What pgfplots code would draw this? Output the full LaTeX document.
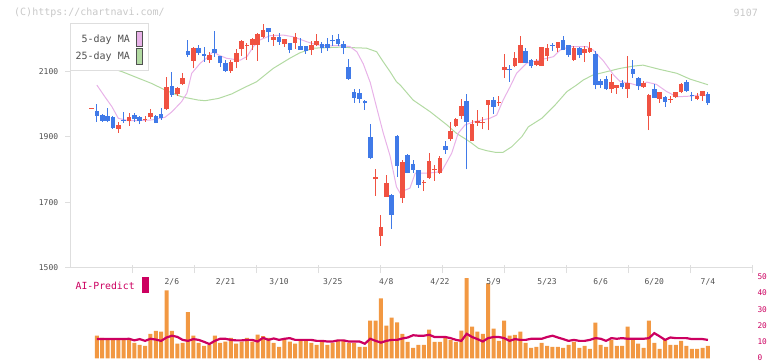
\documentclass[border=0pt]{standalone}
\usepackage{fontspec}
\setmonofont{DejaVu Sans Mono}
\usepackage{pgfplots}
\usepackage{pgfplotstable}
\pgfplotsset{compat=1.18}
\definecolor{cup}{RGB}{240,82,66}
\definecolor{cdown}{RGB}{64,122,232}
\definecolor{vol}{RGB}{242,152,66}
\definecolor{ai}{RGB}{204,0,96}
\definecolor{ma5}{RGB}{232,178,232}
\definecolor{ma25}{RGB}{178,218,162}
\definecolor{axisgray}{RGB}{222,222,222}
\definecolor{labgray}{RGB}{80,80,80}
\definecolor{wm}{RGB}{200,200,200}

% up candles (close >= open): i O H L C
\pgfplotstableread{
i O H L C
0 1987 1989 1987 1988
5 1924 1947 1913 1937
7 1948 1974 1934 1960
10 1952 1964 1947 1955
11 1960 1985 1954 1972
14 1985 2085 1982 2052
16 2033 2052 2026 2049
17 2061 2095 2059 2080
19 2134 2175 2110 2172
22 2136 2161 2126 2151
26 2102 2136 2097 2129
27 2129 2168 2110 2158
28 2170 2197 2148 2193
29 2179 2187 2136 2182
30 2182 2202 2166 2200
31 2182 2218 2134 2215
32 2207 2246 2202 2228
34 2197 2215 2180 2206
36 2184 2200 2177 2200
38 2189 2217 2170 2205
41 2165 2194 2151 2182
42 2182 2215 2179 2194
53 1770 1802 1720 1776
54 1598 1661 1567 1624
55 1717 1783 1717 1759
58 1712 1829 1699 1824
62 1759 1768 1734 1762
63 1775 1850 1771 1826
64 1798 1814 1766 1802
65 1791 1842 1786 1836
67 1893 1945 1888 1918
68 1934 1957 1929 1954
69 1964 2015 1954 1995
71 1888 1952 1888 1940
72 1942 1983 1934 1950
73 1944 1960 1923 1946
74 1998 2013 1921 2013
76 2003 2025 1996 2008
77 2105 2154 2080 2113
79 2117 2161 2113 2141
80 2125 2209 2125 2182
83 2120 2138 2117 2133
84 2117 2177 2117 2177
85 2148 2185 2134 2172
87 2174 2190 2161 2190
90 2136 2179 2134 2174
92 2158 2179 2131 2168
93 2161 2192 2158 2174
97 2046 2092 2036 2067
98 2051 2059 2032 2059
100 2047 2148 2020 2066
103 2054 2071 2051 2066
104 1964 2032 1921 2027
106 2016 2039 2005 2039
108 2014 2026 2005 2016
109 2021 2037 2020 2037
110 2039 2066 2034 2062
113 2016 2034 2013 2025
114 2025 2041 2011 2041
}\upcandles

% down candles (close < open): i O H L C
\pgfplotstableread{
i O H L C
1 1980 2001 1947 1965
2 1967 1970 1947 1950
3 1965 1988 1945 1950
4 1960 1964 1925 1928
6 1953 1975 1944 1950
8 1966 1972 1947 1954
9 1960 1964 1939 1950
12 1965 1967 1942 1944
13 1970 1989 1952 1958
15 2056 2098 2023 2028
18 2163 2197 2146 2151
20 2172 2183 2151 2158
21 2154 2177 2131 2148
23 2170 2225 2146 2156
24 2148 2148 2115 2126
25 2128 2136 2100 2103
33 2233 2233 2190 2223
35 2205 2217 2182 2192
37 2188 2188 2156 2167
39 2179 2202 2167 2167
40 2179 2179 2155 2163
43 2184 2192 2158 2172
44 2185 2202 2163 2174
45 2196 2212 2179 2193
46 2200 2215 2180 2186
47 2185 2194 2153 2174
48 2113 2139 2075 2078
49 2037 2047 2005 2020
50 2034 2047 2003 2017
51 2010 2013 1983 2003
52 1900 1940 1831 1835
56 1722 1725 1619 1661
57 1904 1906 1778 1812
59 1845 1848 1789 1791
60 1816 1829 1790 1799
61 1799 1799 1745 1753
66 1872 1888 1848 1860
70 2010 2032 1801 1947
75 2013 2023 1970 1993
78 2107 2120 2069 2104
81 2163 2172 2126 2128
82 2136 2138 2110 2117
86 2182 2187 2164 2180
88 2197 2209 2166 2166
89 2182 2182 2146 2151
91 2172 2177 2143 2151
94 2154 2164 2046 2059
95 2071 2076 2051 2059
96 2077 2087 2044 2046
99 2066 2075 2047 2054
101 2108 2136 2082 2093
102 2082 2085 2044 2057
105 2047 2062 2020 2020
107 2023 2026 1993 2008
111 2067 2073 2037 2042
112 2029 2037 2011 2025
115 2032 2039 1998 2005
}\downcandles

\pgfplotstableread{
i v
1.0 2059
2.5 2023
3.8 1993
5.0 1957
6.9 1950
8.7 1950
11.2 1952
13.7 1960
15.0 1977
16.8 2008
17.8 2034
18.7 2095
20.3 2126
21.8 2146
22.7 2161
23.7 2151
25.2 2141
27.7 2135
29.0 2146
30.2 2177
31.4 2197
33.3 2210
35.8 2212
37.6 2207
40.1 2192
42.0 2182
43.9 2179
46.4 2180
48.2 2177
49.5 2161
50.7 2124
52.0 2067
53.2 1990
54.4 1914
55.7 1842
56.9 1747
57.6 1727
58.5 1737
59.4 1743
60.4 1789
62.8 1789
65.3 1794
67.2 1850
68.4 1911
69.7 1937
71.5 1947
74.3 1957
75.6 1967
76.8 2013
78.1 2054
79.3 2095
81.2 2126
83.7 2136
86.2 2146
87.4 2166
89.3 2177
92.4 2177
93.6 2166
95.5 2133
97.4 2090
98.6 2070
100.5 2064
102.3 2056
103.6 2068
105.4 2061
107.3 2039
109.2 2023
111.7 2025
113.6 2029
115.0 2027
}\mafive

\pgfplotstableread{
i v
0 2128
3 2114
5.7 2100
11.2 2064
13.7 2044
16.8 2023
19.9 2013
21.2 2011
23.7 2018
26.2 2032
28.6 2052
30.8 2069
33.9 2110
37.0 2141
38.9 2158
41.4 2172
46.4 2175
49.5 2173
51.3 2172
53.2 2161
54.4 2131
55.7 2100
56.9 2069
57.6 2059
60.0 2013
63.2 1977
66.3 1937
68.1 1911
70.6 1885
72.2 1865
73.7 1858
75.3 1853
76.8 1853
78.4 1870
80.3 1901
81.5 1931
84.0 1957
86.5 1998
88.7 2039
90.5 2059
91.8 2075
93.6 2090
94.9 2095
98.6 2110
101.1 2117
102.9 2120
106.0 2107
109.2 2095
111.7 2077
114.8 2061
115.0 2060
}\matwentyfive

% volume and AI-Predict
\pgfplotstableread{
i vol ai
1 14.2 12.1
2 12.9 12.1
3 11.6 12.1
4 11.6 12.1
5 11.6 12.1
6 11.6 12.1
7 11.6 12.3
8 9.8 11.3
9 8.5 12.1
10 7.9 11.0
11 15.4 12.3
12 17.3 11.8
13 16.7 11.0
14 42.5 13.1
15 17.3 14.2
16 9.3 13.5
17 9.8 11.6
18 28.9 11.0
19 14.2 12.1
20 9.8 11.6
21 7.9 10.4
22 8.5 9.0
23 14.2 11.0
24 9.8 12.3
25 10.5 12.3
26 12.9 11.6
27 9.2 11.3
28 10.5 11.3
29 12.9 11.6
30 10.5 11.6
31 14.9 10.6
32 13.9 12.9
33 12.9 11.6
34 9.8 12.5
35 7.3 11.6
36 12.2 12.3
37 10.5 12.7
38 9.2 11.6
39 11.6 11.6
40 11.6 11.6
41 9.8 11.6
42 8.5 11.0
43 10.5 11.0
44 8.5 10.6
45 9.8 10.6
46 11.6 11.3
47 11.6 11.3
48 9.8 10.6
49 9.8 10.6
50 7.3 10.6
51 7.3 9.2
52 23.6 12.3
53 23.6 11.0
54 37.5 9.9
55 20.5 11.0
56 25.5 11.6
57 22.6 11.6
58 15.4 12.5
59 10.4 13.1
60 6.6 14.5
61 8.5 14.2
62 8.5 14.2
63 18.0 14.8
64 10.4 13.4
65 10.4 13.4
66 12.9 13.4
67 11.6 12.7
68 10.4 11.6
69 17.4 11.0
70 50.1 15.4
71 19.8 13.4
72 16.8 12.1
73 15.4 10.6
74 46.9 12.7
75 18.6 13.4
76 11.0 13.4
77 23.6 12.7
78 14.2 11.0
79 14.8 12.1
80 16.8 11.6
81 9.8 11.6
82 6.6 12.3
83 7.3 12.3
84 9.8 12.3
85 7.9 13.4
86 7.3 14.2
87 7.3 13.1
88 6.6 12.1
89 8.5 11.0
90 10.4 11.6
91 6.6 11.0
92 7.9 11.0
93 6.0 11.6
94 22.4 12.7
95 8.5 12.3
96 7.3 11.0
97 11.6 12.7
98 7.9 12.3
99 7.9 12.7
100 19.8 12.3
101 11.6 12.3
102 9.2 12.3
103 6.6 12.3
104 23.6 12.7
105 9.8 15.8
106 6.0 13.8
107 11.6 11.6
108 8.5 13.1
109 8.5 12.7
110 11.0 12.7
111 7.9 12.7
112 6.0 12.1
113 6.0 12.1
114 6.6 12.1
115 7.9 11.6
}\voltable

\begin{document}
\begin{tikzpicture}
\path[use as bounding box] (0,0) rectangle (772bp,361bp);

% watermark texts
\node[anchor=west, text=wm, font=\ttfamily\fontsize{10bp}{12bp}\selectfont, inner sep=0pt] at (14bp,348.5bp) {(C)https://chartnavi.com/};
\node[anchor=east, text=wm, font=\ttfamily\fontsize{10bp}{12bp}\selectfont, inner sep=0pt] at (758bp,348.5bp) {9107};

% ---------------- price panel ----------------
\begin{axis}[
  at={(70bp,93.5bp)}, anchor=south west,
  scale only axis, width=682.5bp, height=244.8bp,
  xmin=-4.01, xmax=123.32, ymin=1500, ymax=2250,
  axis lines*=left,
  axis line style={-, draw=axisgray, line width=1bp},
  xtick=\empty,
  ytick={1500,1700,1900,2100},
  yticklabels={1500,1700,1900,2100},
  tick align=outside, major tick length=5bp,
  tick style={draw=axisgray, line width=1bp},
  yticklabel style={font=\ttfamily\fontsize{8bp}{9bp}\selectfont, text=labgray, xshift=-3.3bp},
  /pgf/number format/assume math mode=true,
  clip=false,
]
\addplot[ma25, line width=1bp] table[x=i, y=v] {\matwentyfive};
\addplot[ma5, line width=1bp] table[x=i, y=v] {\mafive};
% wicks
\addplot[draw=none, mark=none,
  error bars/.cd, y dir=plus, y explicit, error mark=none,
  error bar style={draw=cup, line width=1bp}]
  table[x=i, y=L, y error expr={\thisrow{H}-\thisrow{L}}] {\upcandles};
\addplot[draw=none, mark=none,
  error bars/.cd, y dir=plus, y explicit, error mark=none,
  error bar style={draw=cdown, line width=1bp}]
  table[x=i, y=L, y error expr={\thisrow{H}-\thisrow{L}}] {\downcandles};
% bodies
\addplot[draw=none, mark=none,
  error bars/.cd, y dir=plus, y explicit, error mark=none,
  error bar style={draw=cup, line width=4.6bp}]
  table[x=i, y=O, y error expr={max(\thisrow{C}-\thisrow{O},3)}] {\upcandles};
\addplot[draw=none, mark=none,
  error bars/.cd, y dir=plus, y explicit, error mark=none,
  error bar style={draw=cdown, line width=4.6bp}]
  table[x=i, y=C, y error expr={max(\thisrow{O}-\thisrow{C},3)}] {\downcandles};
\end{axis}

% ticks crossing the base line
\begin{axis}[
  at={(70bp,93.5bp)}, anchor=south west,
  scale only axis, width=682.5bp, height=244.8bp,
  xmin=-4.01, xmax=123.32, ymin=0, ymax=1,
  axis y line=none, axis x line*=bottom,
  x axis line style={draw=none},
  xtick={7.565,19.14,30.715,42.29,53.865,65.44,77.015,88.59,100.165,111.74,123.315},
  xticklabels={},
  tick align=center, major tick length=8.5bp,
  tick style={draw=axisgray, line width=1bp, yshift=-1.7bp},
]
\addplot[draw=none, mark=none] coordinates {(0,0.5)};
\end{axis}

% legend box
\draw[axisgray, line width=1bp, fill=white] (70bp,290bp) rectangle (148bp,337bp);
\node[anchor=east, text=labgray, font=\ttfamily\fontsize{10bp}{12bp}\selectfont, inner sep=0pt] at (130bp,321bp) {5-day MA};
\node[anchor=east, text=labgray, font=\ttfamily\fontsize{10bp}{12bp}\selectfont, inner sep=0pt] at (130bp,304bp) {25-day MA};
\draw[draw=labgray, line width=0.8bp, fill=ma5] (136.3bp,314.5bp) rectangle (142.5bp,329.8bp);
\draw[draw=labgray, line width=0.8bp, fill=ma25] (136.3bp,297bp) rectangle (142.5bp,312.5bp);

% ---------------- volume panel ----------------
\begin{axis}[
  at={(70bp,2.5bp)}, anchor=south west,
  scale only axis, width=682.5bp, height=80.2bp,
  xmin=-4.01, xmax=123.32, ymin=0, ymax=50,
  axis x line=none, axis y line*=right,
  y axis line style={draw=none},
  ytick={0,10,20,30,40,50},
  major tick length=0pt,
  yticklabel style={font=\ttfamily\fontsize{7.8bp}{9bp}\selectfont, text=ai, xshift=1.5bp, yshift=1.2bp},
  /pgf/number format/assume math mode=true,
  clip=false,
]
\addplot[ybar, bar width=4bp, bar shift=0pt, fill=vol, draw=none] table[x=i, y=vol] {\voltable};
\addplot[ai, line width=2.2bp] table[x=i, y=ai] {\voltable};
\node[text=labgray, font=\ttfamily\fontsize{8bp}{9bp}\selectfont, inner sep=0pt] at (axis cs:15,47.7) {2/6};
\node[text=labgray, font=\ttfamily\fontsize{8bp}{9bp}\selectfont, inner sep=0pt] at (axis cs:25,47.7) {2/21};
\node[text=labgray, font=\ttfamily\fontsize{8bp}{9bp}\selectfont, inner sep=0pt] at (axis cs:35,47.7) {3/10};
\node[text=labgray, font=\ttfamily\fontsize{8bp}{9bp}\selectfont, inner sep=0pt] at (axis cs:45,47.7) {3/25};
\node[text=labgray, font=\ttfamily\fontsize{8bp}{9bp}\selectfont, inner sep=0pt] at (axis cs:55,47.7) {4/8};
\node[text=labgray, font=\ttfamily\fontsize{8bp}{9bp}\selectfont, inner sep=0pt] at (axis cs:65,47.7) {4/22};
\node[text=labgray, font=\ttfamily\fontsize{8bp}{9bp}\selectfont, inner sep=0pt] at (axis cs:75,47.7) {5/9};
\node[text=labgray, font=\ttfamily\fontsize{8bp}{9bp}\selectfont, inner sep=0pt] at (axis cs:85,47.7) {5/23};
\node[text=labgray, font=\ttfamily\fontsize{8bp}{9bp}\selectfont, inner sep=0pt] at (axis cs:95,47.7) {6/6};
\node[text=labgray, font=\ttfamily\fontsize{8bp}{9bp}\selectfont, inner sep=0pt] at (axis cs:105,47.7) {6/20};
\node[text=labgray, font=\ttfamily\fontsize{8bp}{9bp}\selectfont, inner sep=0pt] at (axis cs:115,47.7) {7/4};
\end{axis}

% AI-Predict label
\node[anchor=west, text=ai, font=\ttfamily\fontsize{9.8bp}{12bp}\selectfont, inner sep=0pt] at (75.5bp,75bp) {AI-Predict};
\fill[ai] (142.3bp,68.3bp) rectangle (149bp,83.7bp);

\end{tikzpicture}
\end{document}
